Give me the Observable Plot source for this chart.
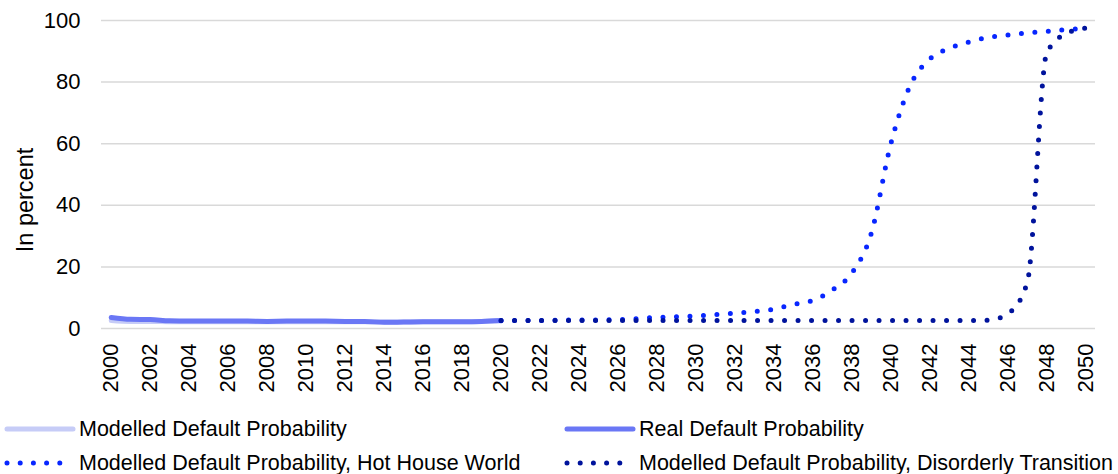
<!DOCTYPE html>
<html>
<head>
<meta charset="utf-8">
<script src="https://cdn.jsdelivr.net/npm/d3@7"></script>
<script src="https://cdn.jsdelivr.net/npm/@observablehq/plot@0.6"></script>
<style>
  body { margin: 0; background: #fff; font-family: "Liberation Sans", Arial, sans-serif; }
  #wrap { position: relative; width: 1118px; height: 474px; }
  .leg { position: absolute; display: flex; align-items: center; font-size: 21.5px; color: #000; height: 34px; white-space: nowrap; }
  .leg svg { flex: none; }
</style>
</head>
<body>
<div id="wrap"></div>
<script>
// ---- data ----
const histYears = [2000,2001,2002,2003,2004,2005,2006,2007,2008,2009,2010,2011,2012,2013,2014,2015,2016,2017,2018,2019,2020];
const modelled  = [2.6,2.3,2.3,2.2,2.2,2.2,2.2,2.2,2.2,2.2,2.2,2.2,2.2,2.2,2.1,2.1,2.2,2.2,2.2,2.3,2.5];
const real      = [3.6,3.0,2.9,2.5,2.4,2.4,2.4,2.4,2.3,2.4,2.4,2.4,2.3,2.3,2.0,2.1,2.2,2.2,2.2,2.3,2.6];

const projYears = [2020,2021,2022,2023,2024,2025,2026,2027,2028,2029,2030,2031,2032,2033,2034,2035,2036,2037,2038,2039,2040,2041,2042,2043,2044,2045,2046,2047,2048,2049,2050];
const hotHouse  = [2.5,2.6,2.6,2.7,2.8,2.8,2.9,3.2,3.6,3.8,4.1,4.5,5.0,5.5,6.3,7.8,9.1,12.5,18.0,31.0,60.0,79.0,87.5,91.0,93.0,94.5,95.3,96.0,96.5,97.0,97.5];
const disorderly= [2.6,2.6,2.6,2.6,2.6,2.6,2.6,2.6,2.6,2.6,2.6,2.6,2.6,2.6,2.6,2.6,2.6,2.6,2.6,2.6,2.6,2.6,2.6,2.6,2.6,2.7,4.8,15.0,89.5,95.8,97.5];

const yTicks = [0,20,40,60,80,100];
const xTicks = [2000,2002,2004,2006,2008,2010,2012,2014,2016,2018,2020,2022,2024,2026,2028,2030,2032,2034,2036,2038,2040,2042,2044,2046,2048,2050];

const seriesNames = ["Modelled Default Probability","Real Default Probability","Modelled Default Probability, Hot House World","Modelled Default Probability, Disorderly Transition"];
const seriesColors = ["#c6ccf7","#6a77f5","#0826ff","#00139c"];

// ---- tables ----
const histModelled = histYears.map((x,i)=>({x, y: modelled[i]}));
const histReal = histYears.map((x,i)=>({x, y: real[i]}));
const projHot = projYears.map((x,i)=>({x, y: hotHouse[i]}));
const projDis = projYears.map((x,i)=>({x, y: disorderly[i]}));

const font = "'Liberation Sans', Arial, sans-serif";

const chart = Plot.plot({
  width: 1118,
  height: 405,
  marginLeft: 101,
  marginRight: 23,
  marginTop: 20,
  marginBottom: 77,
  style: {fontFamily: font, fontSize: "22px", color: "#000", background: "#fff"},
  x: {type: "linear", domain: [1999.5, 2050.5]},
  y: {domain: [0, 100]},
  marks: [
    Plot.ruleY(yTicks, {stroke: "#d9d9d9", strokeWidth: 1.5}),
    Plot.line(histModelled, {x: "x", y: "y", stroke: seriesColors[0], strokeWidth: 5, curve: "monotone-x"}),
    Plot.line(histReal, {x: "x", y: "y", stroke: seriesColors[1], strokeWidth: 5, curve: "monotone-x"}),
    Plot.line(projHot, {x: "x", y: "y", stroke: seriesColors[2], strokeWidth: 5, strokeDasharray: "0,13.5", strokeLinecap: "round", curve: "monotone-x"}),
    Plot.line(projDis, {x: "x", y: "y", stroke: seriesColors[3], strokeWidth: 5, strokeDasharray: "0,13.5", strokeLinecap: "round", curve: "monotone-x"}),
    Plot.axisY(yTicks, {tickSize: 0, tickPadding: 21, label: null, fontSize: 22}),
    Plot.axisX(xTicks, {tickSize: 0, tickPadding: 15, tickRotate: -90, tickFormat: d3.format("d"), label: null, fontSize: 22})
  ]
});

const wrap = document.getElementById("wrap");
wrap.appendChild(chart);

// y-axis title
d3.select(chart).append("text")
  .attr("transform", "translate(25,200) rotate(-90)")
  .attr("text-anchor", "middle")
  .attr("dominant-baseline", "central")
  .attr("font-family", font)
  .attr("font-size", 23.5)
  .attr("fill", "#000")
  .text("In percent");

// legend
const legPos = [[0,412],[560,412],[0,446],[560,446]];
seriesNames.forEach((name, i) => {
  const div = document.createElement("div");
  div.className = "leg";
  div.style.left = legPos[i][0] + "px";
  div.style.top = legPos[i][1] + "px";
  const dotted = i >= 2;
  div.innerHTML = `<svg width="79" height="34"><line x1="7" x2="${dotted ? 60 : 73}" y1="17" y2="17" stroke="${seriesColors[i]}" stroke-width="5" stroke-linecap="round" ${dotted ? 'stroke-dasharray="0,13.2"' : ''}/></svg><span>${name}</span>`;
  wrap.appendChild(div);
});
</script>
</body>
</html>
